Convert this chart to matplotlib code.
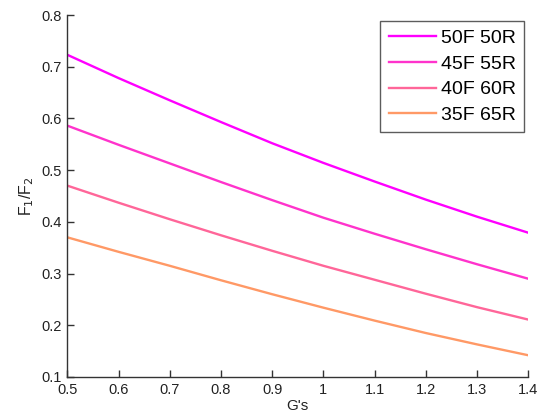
import numpy as np
import matplotlib
matplotlib.use("Agg")
import matplotlib.pyplot as plt

plt.rcParams["font.family"] = ["Liberation Sans", "DejaVu Sans"]

# G's values along the x axis
g = [0.5, 0.6, 0.7, 0.8, 0.9, 1.0, 1.1, 1.2, 1.3, 1.4]

# F1/F2 ratio for each weight split
f_50_50 = [0.723, 0.678, 0.635, 0.593, 0.552, 0.514, 0.478, 0.443, 0.410, 0.379]
f_45_55 = [0.586, 0.549, 0.513, 0.477, 0.442, 0.408, 0.377, 0.347, 0.318, 0.290]
f_40_60 = [0.470, 0.437, 0.405, 0.374, 0.344, 0.315, 0.288, 0.261, 0.235, 0.211]
f_35_65 = [0.370, 0.342, 0.315, 0.287, 0.260, 0.234, 0.209, 0.185, 0.163, 0.142]

labels = ["50F 50R", "45F 55R", "40F 60R", "35F 65R"]
colors = [(1, 0, 1), (1, 0.2, 0.8), (1, 0.4, 0.6), (1, 0.6, 0.4)]

fig = plt.figure(figsize=(5.39, 4.17), dpi=100)
ax = fig.add_axes([0.125, 0.096, 0.855, 0.868])

for ys, lab, c in zip([f_50_50, f_45_55, f_40_60, f_35_65], labels, colors):
    ax.plot(g, ys, color=c, lw=1.7, label=lab)

ax.set_xlim(0.5, 1.4)
ax.set_ylim(0.1, 0.8)
ax.set_xticks(np.arange(0.5, 1.41, 0.1))
ax.set_xticklabels(["0.5", "0.6", "0.7", "0.8", "0.9", "1", "1.1", "1.2", "1.3", "1.4"])
ax.set_yticks(np.arange(0.1, 0.81, 0.1))
ax.set_yticklabels(["0.1", "0.2", "0.3", "0.4", "0.5", "0.6", "0.7", "0.8"])

ax.spines["top"].set_visible(False)
ax.spines["right"].set_visible(False)
for s in ["left", "bottom"]:
    ax.spines[s].set_color("#333333")
    ax.spines[s].set_linewidth(1.0)
ax.tick_params(direction="in", length=5, width=1, color="#333333",
               labelsize=10.5, labelcolor="#222222")
ax.tick_params(axis="x", pad=4)
ax.tick_params(axis="y", pad=4)

ax.set_xlabel("G's", fontsize=11, color="#222222", labelpad=2)
ax.set_ylabel("F$_1$/F$_2$", fontsize=11.5, color="#222222", labelpad=4)

leg = ax.legend(loc="upper right", bbox_to_anchor=(0.9913, 0.9835), fontsize=14,
                frameon=True, fancybox=False, handlelength=2.45, handletextpad=0.25,
                borderpad=0.42, labelspacing=0.42, borderaxespad=0)
leg.get_frame().set_edgecolor("#333333")
leg.get_frame().set_linewidth(1.0)

fig.savefig("out.png", dpi=100)
